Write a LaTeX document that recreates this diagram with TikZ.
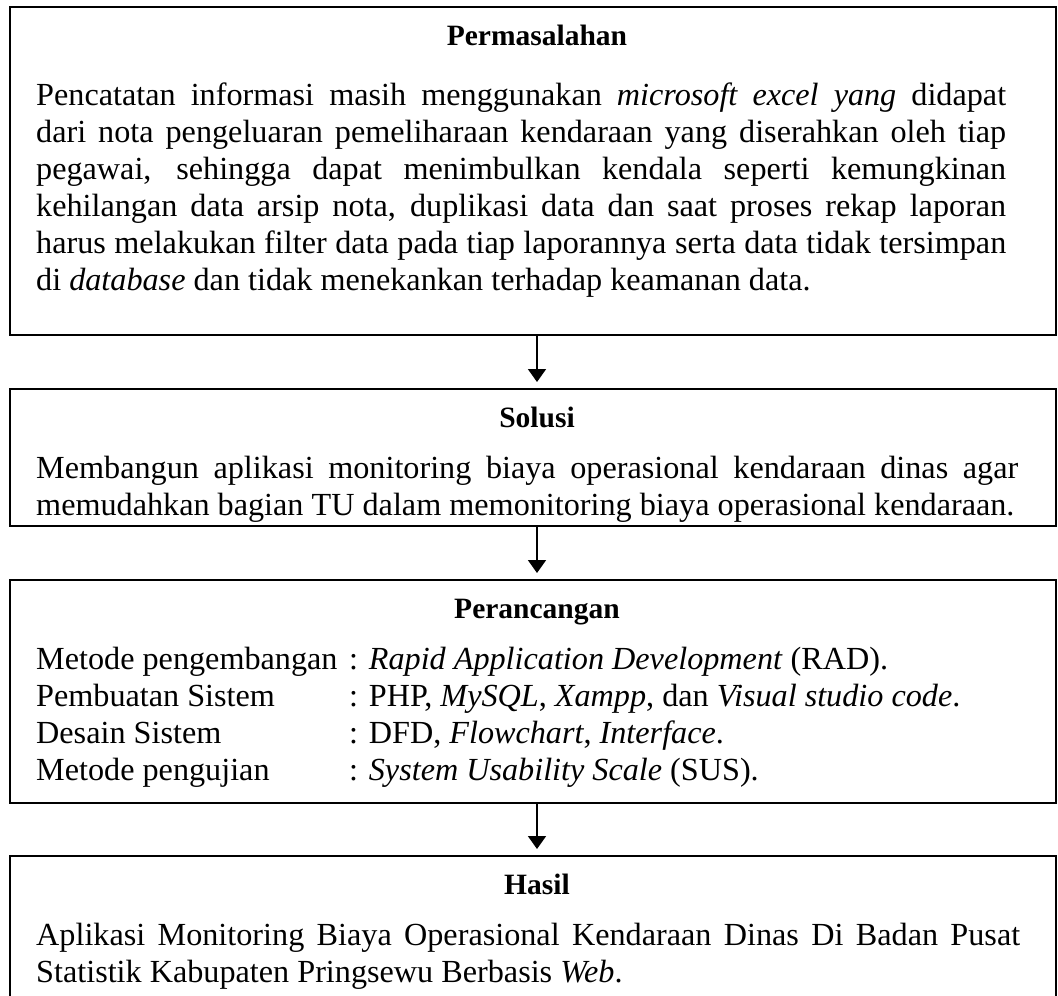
\documentclass[tikz,border=0pt]{standalone}
\usepackage{fontspec}
\setmainfont{Liberation Serif}
\usetikzlibrary{arrows.meta}
\newcommand\bodyfs{\fontsize{32.2pt}{37pt}\selectfont}
\newcommand\headfs{\fontsize{29.5pt}{35pt}\selectfont\bfseries}
\begin{document}
\begin{tikzpicture}[x=1pt,y=-1pt,
  panel/.style={draw, line width=2.6pt, outer sep=0pt, inner sep=0pt,
    anchor=north west, minimum width=1046pt},
  ln/.style={anchor=base west, inner sep=0pt, font=\bodyfs},
  head/.style={anchor=base, inner sep=0pt, font=\headfs},
  flow/.style={line width=1.8pt, -{Triangle[width=18pt,length=13pt]}, shorten >=7pt}]
\useasboundingbox (0,0) rectangle (1058,996);
\clip (0,0) rectangle (1058,996);

% frames
\node[panel, minimum height=328pt] (b1) at (10,7) {};
\node[panel, minimum height=137pt] (b2) at (10,389) {};
\node[panel, minimum height=223pt] (b3) at (10,580) {};
\node[panel, minimum height=160pt] (b4) at (10,856) {};

% headings
\node[head] (h1) at (537,45) {Permasalahan};
\node[head] (h2) at (537,427) {Solusi};
\node[head] (h3) at (537,618) {Perancangan};
\node[head] (h4) at (537,894) {Hasil};

% problem statement
\node[ln] (p1) at (36,105) {\makebox[970pt][s]{Pencatatan informasi masih menggunakan \textit{microsoft excel yang} didapat}};
\node[ln] (p2) at (36,142) {\makebox[970pt][s]{dari nota pengeluaran pemeliharaan kendaraan yang diserahkan oleh tiap}};
\node[ln] (p3) at (36,179) {\makebox[970pt][s]{pegawai, sehingga dapat menimbulkan kendala seperti kemungkinan}};
\node[ln] (p4) at (36,216) {\makebox[970pt][s]{kehilangan data arsip nota, duplikasi data dan saat proses rekap laporan}};
\node[ln] (p5) at (36,253) {\makebox[970pt][s]{harus melakukan filter data pada tiap laporannya serta data tidak tersimpan}};
\node[ln] (p6) at (36,290) {di \textit{database} dan tidak menekankan terhadap keamanan data.};

% solution
\node[ln] (s1) at (36,478) {\makebox[982pt][s]{Membangun aplikasi monitoring biaya operasional kendaraan dinas agar}};
\node[ln] (s2) at (36,515) {memudahkan bagian TU dalam memonitoring biaya operasional kendaraan.};

% design
\node[ln] (d1) at (36,669) {Metode pengembangan};
\node[ln] (d2) at (36,706) {Pembuatan Sistem};
\node[ln] (d3) at (36,743) {Desain Sistem};
\node[ln] (d4) at (36,780) {Metode pengujian};
\node[ln] (v1) at (349,669) {: \textit{Rapid Application Development} (RAD).};
\node[ln] (v2) at (349,706) {: PHP, \textit{MySQL}, \textit{Xampp}, dan \textit{Visual studio code}.};
\node[ln] (v3) at (349,743) {: DFD, \textit{Flowchart}, \textit{Interface}.};
\node[ln] (v4) at (349,780) {: \textit{System Usability Scale} (SUS).};

% result
\node[ln] (r1) at (36,945) {\makebox[984pt][s]{Aplikasi Monitoring Biaya Operasional Kendaraan Dinas Di Badan Pusat}};
\node[ln] (r2) at (36,982) {Statistik Kabupaten Pringsewu Berbasis \textit{Web}.};

% flow arrows
\draw[flow] (b1.south -| h2) -- (b2.north -| h2);
\draw[flow] (b2.south -| h2) -- (b3.north -| h2);
\draw[flow] (b3.south -| h2) -- (b4.north -| h2);
\end{tikzpicture}
\end{document}
